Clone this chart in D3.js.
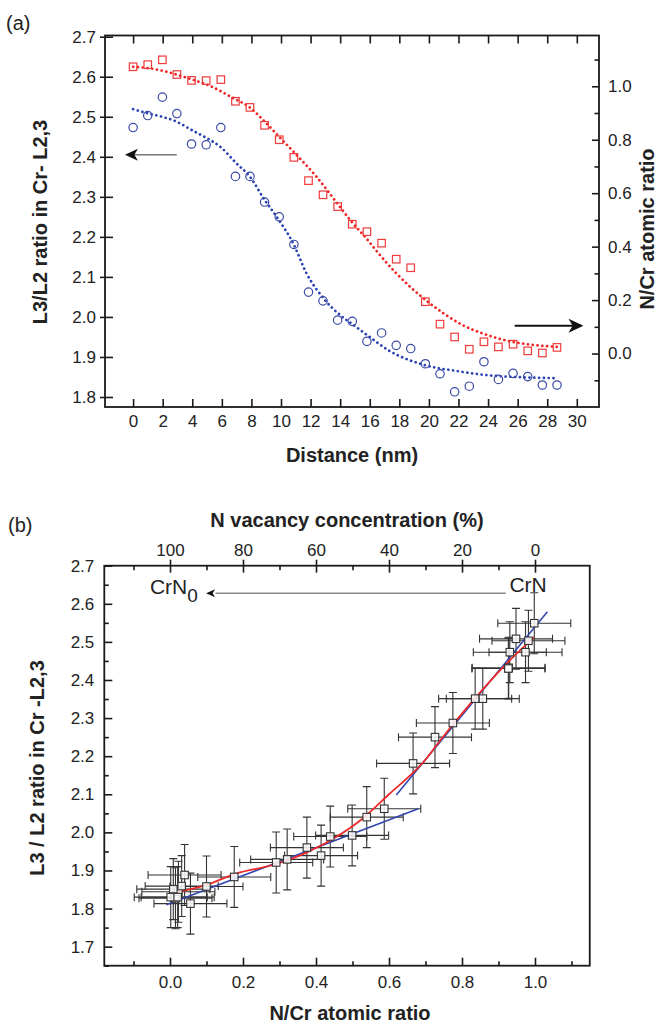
<!DOCTYPE html>
<html><head><meta charset="utf-8">
<script src="https://cdn.jsdelivr.net/npm/d3@7"></script>
<style>
body{margin:0;background:#fff}
svg{display:block}
text{font-family:"Liberation Sans",Arial,Helvetica,sans-serif;fill:#222}
</style>
</head><body>
<svg id="chart" width="660" height="1030"></svg>
<script>
// ---------- Panel (a): profiles across the interface ----------
const distance = [0, 0.99, 1.98, 2.96, 3.95, 4.94, 5.93, 6.92, 7.90, 8.89, 9.88, 10.87, 11.86, 12.84, 13.83,
                  14.82, 15.81, 16.80, 17.79, 18.77, 19.76, 20.75, 21.74, 22.73, 23.72, 24.70, 25.69, 26.68, 27.67, 28.66];
const l3l2Ratio = [2.473, 2.503, 2.549, 2.508, 2.432, 2.430, 2.473, 2.351, 2.351, 2.287, 2.250, 2.181, 2.062, 2.040, 1.992,
                   1.989, 1.939, 1.960, 1.929, 1.921, 1.883, 1.858, 1.813, 1.827, 1.888, 1.844, 1.859, 1.851, 1.830, 1.830];
const nCrRatio = [1.073, 1.081, 1.099, 1.044, 1.022, 1.021, 1.025, 0.944, 0.921, 0.854, 0.800, 0.734, 0.647, 0.594, 0.550,
                  0.484, 0.456, 0.413, 0.353, 0.321, 0.194, 0.110, 0.062, 0.016, 0.044, 0.025, 0.035, 0.010, 0.002, 0.023];

// sigmoidal fits (dotted)
const l3l2FitX = [0, 0.95, 1.96, 2.93, 3.95, 4.96, 5.86, 6.98, 7.88, 8.88, 9.69, 10.86, 11.71, 12.84, 14.08, 14.82,
                  15.81, 17.34, 19.6, 21.85, 24.1, 26.5, 28.7];
const l3l2FitY = [2.519, 2.509, 2.500, 2.488, 2.467, 2.447, 2.426, 2.384, 2.351, 2.293, 2.251, 2.181, 2.110, 2.048, 2.002, 1.982,
                  1.955, 1.915, 1.881, 1.865, 1.854, 1.849, 1.847];
const nCrFitX = [0, 1, 2, 2.93, 3.95, 5.18, 6.76, 7.88, 8.88, 9.86, 11.04, 12.39, 13.97, 14.82, 15.77, 16.67, 17.8,
                 19.78, 20.95, 22.3, 23.65, 25.45, 27.26, 28.7];
const nCrFitY = [1.073, 1.068, 1.058, 1.044, 1.026, 1.002, 0.956, 0.921, 0.869, 0.812, 0.744, 0.662, 0.550, 0.490, 0.431, 0.370, 0.300,
                 0.200, 0.152, 0.106, 0.075, 0.046, 0.031, 0.025];

const distTicks = [0, 2, 4, 6, 8, 10, 12, 14, 16, 18, 20, 22, 24, 26, 28, 30];
const l3l2TicksA = [1.8, 1.9, 2.0, 2.1, 2.2, 2.3, 2.4, 2.5, 2.6, 2.7];
const nCrTicks = [0.0, 0.2, 0.4, 0.6, 0.8, 1.0];
const nCrMinorTicks = [-0.1, 0.1, 0.3, 0.5, 0.7, 0.9, 1.1];

// ---------- Panel (b): L3/L2 versus N/Cr ----------
const ratioX = [0.974, 0.982, 0.998, 0.948, 0.928, 0.927, 0.931, 0.857, 0.836, 0.775, 0.726, 0.666, 0.587, 0.539, 0.499,
                0.439, 0.414, 0.375, 0.321, 0.291, 0.176, 0.100, 0.056, 0.015, 0.040, 0.023, 0.032, 0.009, 0.002, 0.021];
const ratioY = [2.473, 2.503, 2.549, 2.508, 2.432, 2.430, 2.473, 2.351, 2.351, 2.287, 2.250, 2.181, 2.062, 2.040, 1.992,
                1.989, 1.939, 1.960, 1.929, 1.921, 1.883, 1.858, 1.813, 1.827, 1.888, 1.844, 1.859, 1.851, 1.830, 1.830];
const errX = [0.10, 0.10, 0.10, 0.10, 0.10, 0.10, 0.10, 0.10, 0.10, 0.10, 0.10, 0.10, 0.10, 0.10, 0.10,
              0.10, 0.10, 0.10, 0.10, 0.10, 0.10, 0.10, 0.10, 0.10, 0.10, 0.10, 0.10, 0.10, 0.10, 0.10];
const errY = [0.08, 0.08, 0.08, 0.08, 0.08, 0.08, 0.08, 0.08, 0.08, 0.08, 0.08, 0.08, 0.08, 0.08, 0.08,
              0.08, 0.08, 0.08, 0.08, 0.08, 0.08, 0.08, 0.08, 0.08, 0.08, 0.08, 0.08, 0.08, 0.08, 0.08];

// smooth fit (red) and two linear fits (blue)
const curveFitX = [0, 0.1, 0.178, 0.292, 0.374, 0.447, 0.521, 0.60, 0.699, 0.74, 0.831, 0.922, 0.997];
const curveFitY = [1.839, 1.862, 1.891, 1.917, 1.947, 1.983, 2.031, 2.100, 2.190, 2.241, 2.347, 2.443, 2.512];
const lowLineX = [-0.01, 0.68];
const lowLineY = [1.810, 2.062];
const highLineX = [0.62, 1.034];
const highLineY = [2.098, 2.579];

const ratioTicksX = [0.0, 0.2, 0.4, 0.6, 0.8, 1.0];
const ratioMinorX = [-0.1, 0.1, 0.3, 0.5, 0.7, 0.9, 1.1];
const vacancyTicks = [100, 80, 60, 40, 20, 0];
const vacancyMinor = [110, 90, 70, 50, 30, 10];
const l3l2TicksB = [1.7, 1.8, 1.9, 2.0, 2.1, 2.2, 2.3, 2.4, 2.5, 2.6, 2.7];
const l3l2MinorB = [1.65, 1.75, 1.85, 1.95, 2.05, 2.15, 2.25, 2.35, 2.45, 2.55, 2.65];

// ---------- drawing ----------
const svg = d3.select("#chart");
const AX = "#1a1a1a";
const RED = "#ef3b3b", BLUE = "#3b4aa6";
const TICK_FONT = 17, TITLE_FONT = 20;

function styleAxis(g, hideText) {
  g.select(".domain").remove();
  g.selectAll(".tick line").attr("stroke", AX).attr("stroke-width", 1.6);
  g.selectAll(".tick text").attr("font-size", TICK_FONT).attr("fill", "#222")
    .attr("font-family", '"Liberation Sans", Arial, sans-serif');
  if (hideText) g.selectAll(".tick text").remove();
  return g;
}
const fmt1 = d3.format(".1f");

// Panel (a) scales
const xA = d3.scaleLinear().domain([-1.9, 31.5]).range([105, 599]);
const yA = d3.scaleLinear().domain([1.775, 2.703]).range([407, 35.5]);
const yA2 = d3.scaleLinear().domain([-0.2, 1.19]).range([407, 35.5]);

const gA = svg.append("g");
// axes of panel (a)
gA.append("g").attr("transform", "translate(0,407)")
  .call(d3.axisBottom(xA).tickValues(distTicks).tickFormat(d3.format("d")).tickSizeInner(-8).tickSizeOuter(0).tickPadding(8))
  .call(g => styleAxis(g));
gA.append("g").attr("transform", "translate(0,35.5)")
  .call(d3.axisTop(xA).tickValues(distTicks).tickSizeInner(-8).tickSizeOuter(0))
  .call(g => styleAxis(g, true));
gA.append("g").attr("transform", "translate(105,0)")
  .call(d3.axisLeft(yA).tickValues(l3l2TicksA).tickFormat(fmt1).tickSizeInner(-8).tickSizeOuter(0).tickPadding(9))
  .call(g => styleAxis(g));
gA.append("g").attr("transform", "translate(105,0)")
  .call(d3.axisLeft(yA).tickValues(l3l2TicksA).tickSizeInner(5).tickSizeOuter(0))
  .call(g => styleAxis(g, true));
gA.append("g").attr("transform", "translate(599,0)")
  .call(d3.axisRight(yA2).tickValues(nCrTicks).tickFormat(fmt1).tickSizeInner(-7).tickSizeOuter(0).tickPadding(9))
  .call(g => styleAxis(g));
gA.append("g").attr("transform", "translate(599,0)")
  .call(d3.axisRight(yA2).tickValues(nCrMinorTicks).tickSizeInner(-4.5).tickSizeOuter(0))
  .call(g => styleAxis(g, true));
gA.append("rect").attr("x", 105).attr("y", 35.5).attr("width", 494).attr("height", 371.5)
  .attr("fill", "none").attr("stroke", AX).attr("stroke-width", 1.8);

// fitted dotted curves
const dotted = (sel, color) => sel.attr("fill", "none").attr("stroke", color).attr("stroke-width", 2.7)
  .attr("stroke-linecap", "round").attr("stroke-dasharray", "0.1 4.7");
const lineFitN = d3.line().x(d => xA(d[0])).y(d => yA2(d[1])).curve(d3.curveMonotoneX);
const lineFitL = d3.line().x(d => xA(d[0])).y(d => yA(d[1])).curve(d3.curveMonotoneX);
gA.append("path").attr("d", lineFitN(d3.zip(nCrFitX, nCrFitY))).call(dotted, "#f02424");
gA.append("path").attr("d", lineFitL(d3.zip(l3l2FitX, l3l2FitY))).call(dotted, "#2a43b3");

// markers
const sq = 7.5;
gA.append("g").selectAll("rect").data(d3.zip(distance, nCrRatio)).join("rect")
  .attr("x", d => xA(d[0]) - sq / 2).attr("y", d => yA2(d[1]) - sq / 2)
  .attr("width", sq).attr("height", sq)
  .attr("fill", "none").attr("stroke", RED).attr("stroke-width", 1.2);
gA.append("g").selectAll("circle").data(d3.zip(distance, l3l2Ratio)).join("circle")
  .attr("cx", d => xA(d[0])).attr("cy", d => yA(d[1])).attr("r", 4.2)
  .attr("fill", "none").attr("stroke", BLUE).attr("stroke-width", 1.2);

// arrows pointing to the relevant axes
function arrow(g, x1, x2, y, lineColor, width, headLen, headHalf) {
  // x1: tail, x2: tip
  const dir = Math.sign(x2 - x1);
  g.append("line").attr("x1", x1).attr("x2", x2 - dir * headLen * 0.7).attr("y1", y).attr("y2", y)
    .attr("stroke", lineColor).attr("stroke-width", width);
  g.append("path")
    .attr("d", `M${x2},${y} L${x2 - dir * headLen},${y - headHalf} L${x2 - dir * headLen * 0.72},${y} L${x2 - dir * headLen},${y + headHalf} Z`)
    .attr("fill", "#111");
}
arrow(gA, xA(2.95), xA(-0.55), yA(2.405), "#777", 1.5, 13, 6);
arrow(gA, xA(25.8), xA(30.45), yA2(0.104), "#111", 2, 15, 7);

// labels of panel (a)
svg.append("text").attr("x", 6).attr("y", 30).attr("font-size", 20).text("(a)");
svg.append("text").attr("transform", "translate(47,222) rotate(-90)").attr("text-anchor", "middle")
  .attr("font-size", TITLE_FONT).attr("font-weight", "bold").text("L3/L2 ratio in Cr- L2,3");
svg.append("text").attr("transform", "translate(654,229) rotate(-90)").attr("text-anchor", "middle")
  .attr("font-size", TITLE_FONT).attr("font-weight", "bold").text("N/Cr atomic ratio");
svg.append("text").attr("x", 352).attr("y", 462).attr("text-anchor", "middle")
  .attr("font-size", TITLE_FONT).attr("font-weight", "bold").text("Distance (nm)");

// Panel (b) scales
const xB = d3.scaleLinear().domain([-0.18, 1.15]).range([104.3, 589.75]);
const yB = d3.scaleLinear().domain([1.65, 2.7]).range([965.7, 565.7]);
const xVac = d3.scaleLinear().domain([118, -15]).range([104.3, 589.75]);

const gB = svg.append("g");
gB.append("g").attr("transform", "translate(0,965.7)")
  .call(d3.axisBottom(xB).tickValues(ratioTicksX).tickFormat(fmt1).tickSizeInner(-8).tickSizeOuter(0).tickPadding(10))
  .call(g => styleAxis(g));
gB.append("g").attr("transform", "translate(0,965.7)")
  .call(d3.axisBottom(xB).tickValues(ratioMinorX).tickSizeInner(-4.5).tickSizeOuter(0))
  .call(g => styleAxis(g, true));
gB.append("g").attr("transform", "translate(0,565.7)")
  .call(d3.axisTop(xVac).tickValues(vacancyTicks).tickFormat(d3.format("d")).tickSizeInner(6).tickSizeOuter(0).tickPadding(4))
  .call(g => styleAxis(g));
gB.append("g").attr("transform", "translate(0,565.7)")
  .call(d3.axisTop(xVac).tickValues(vacancyTicks).tickSizeInner(-7).tickSizeOuter(0))
  .call(g => styleAxis(g, true));
gB.append("g").attr("transform", "translate(0,565.7)")
  .call(d3.axisTop(xVac).tickValues(vacancyMinor).tickSizeInner(-4.5).tickSizeOuter(0))
  .call(g => styleAxis(g, true));
gB.append("g").attr("transform", "translate(104.3,0)")
  .call(d3.axisLeft(yB).tickValues(l3l2TicksB).tickFormat(fmt1).tickSizeInner(-8).tickSizeOuter(0).tickPadding(10))
  .call(g => styleAxis(g));
gB.append("g").attr("transform", "translate(104.3,0)")
  .call(d3.axisLeft(yB).tickValues(l3l2MinorB).tickSizeInner(-4.5).tickSizeOuter(0))
  .call(g => styleAxis(g, true));
gB.append("rect").attr("x", 104.3).attr("y", 565.7).attr("width", 589.75 - 104.3).attr("height", 400)
  .attr("fill", "none").attr("stroke", AX).attr("stroke-width", 1.8);

// error bars
const pts = ratioX.map((x, i) => ({x, y: ratioY[i], ex: errX[i], ey: errY[i]}));
const eb = gB.append("g").attr("stroke", "#333").attr("stroke-width", 1.1).attr("fill", "none");
const cap = 4;
pts.forEach(p => {
  const cx = xB(p.x), cy = yB(p.y);
  const xl = xB(p.x - p.ex), xr = xB(p.x + p.ex), yt = yB(p.y + p.ey), yb = yB(p.y - p.ey);
  eb.append("path").attr("d",
    `M${xl},${cy}H${xr}M${xl},${cy - cap}V${cy + cap}M${xr},${cy - cap}V${cy + cap}` +
    `M${cx},${yt}V${yb}M${cx - cap},${yt}H${cx + cap}M${cx - cap},${yb}H${cx + cap}`);
});

// fits
const lineB = d3.line().x(d => xB(d[0])).y(d => yB(d[1]));
gB.append("path").attr("d", lineB(d3.zip(lowLineX, lowLineY))).attr("fill", "none").attr("stroke", "#3346b0").attr("stroke-width", 1.6);
gB.append("path").attr("d", lineB(d3.zip(highLineX, highLineY))).attr("fill", "none").attr("stroke", "#3346b0").attr("stroke-width", 1.6);
gB.append("path").attr("d", lineB.curve(d3.curveMonotoneX)(d3.zip(curveFitX, curveFitY)))
  .attr("fill", "none").attr("stroke", "#ee2a2a").attr("stroke-width", 1.8);

// squares
const sqB = 7.5;
gB.append("g").selectAll("rect").data(pts).join("rect")
  .attr("x", d => xB(d.x) - sqB / 2).attr("y", d => yB(d.y) - sqB / 2)
  .attr("width", sqB).attr("height", sqB)
  .attr("fill", "#fff").attr("fill-opacity", 0.85).attr("stroke", "#333").attr("stroke-width", 1.1);

// CrN / CrN0 annotation
const annY = yB(2.628);
gB.append("line").attr("x1", xB(0.125)).attr("x2", xB(0.92)).attr("y1", annY).attr("y2", annY)
  .attr("stroke", "#888").attr("stroke-width", 1.5);
gB.append("path").attr("d", `M${xB(0.099)},${annY} l9,-4 l-2.5,4 l2.5,4 Z`).attr("fill", "#111");
const t0 = gB.append("text").attr("x", xB(-0.055)).attr("y", annY + 1).attr("font-size", 21);
t0.append("tspan").text("CrN");
t0.append("tspan").attr("font-size", 19).attr("dy", 8).text("0");
gB.append("text").attr("x", xB(0.93)).attr("y", yB(2.631)).attr("font-size", 21).text("CrN");

// labels of panel (b)
svg.append("text").attr("x", 8).attr("y", 532).attr("font-size", 20).text("(b)");
svg.append("text").attr("x", 347).attr("y", 527).attr("text-anchor", "middle")
  .attr("font-size", TITLE_FONT).attr("font-weight", "bold").text("N vacancy concentration (%)");
svg.append("text").attr("transform", "translate(44,768) rotate(-90)").attr("text-anchor", "middle")
  .attr("font-size", TITLE_FONT).attr("font-weight", "bold").text("L3 / L2 ratio in Cr -L2,3");
svg.append("text").attr("x", 350).attr("y", 1020).attr("text-anchor", "middle")
  .attr("font-size", TITLE_FONT).attr("font-weight", "bold").text("N/Cr atomic ratio");
</script>
</body></html>
